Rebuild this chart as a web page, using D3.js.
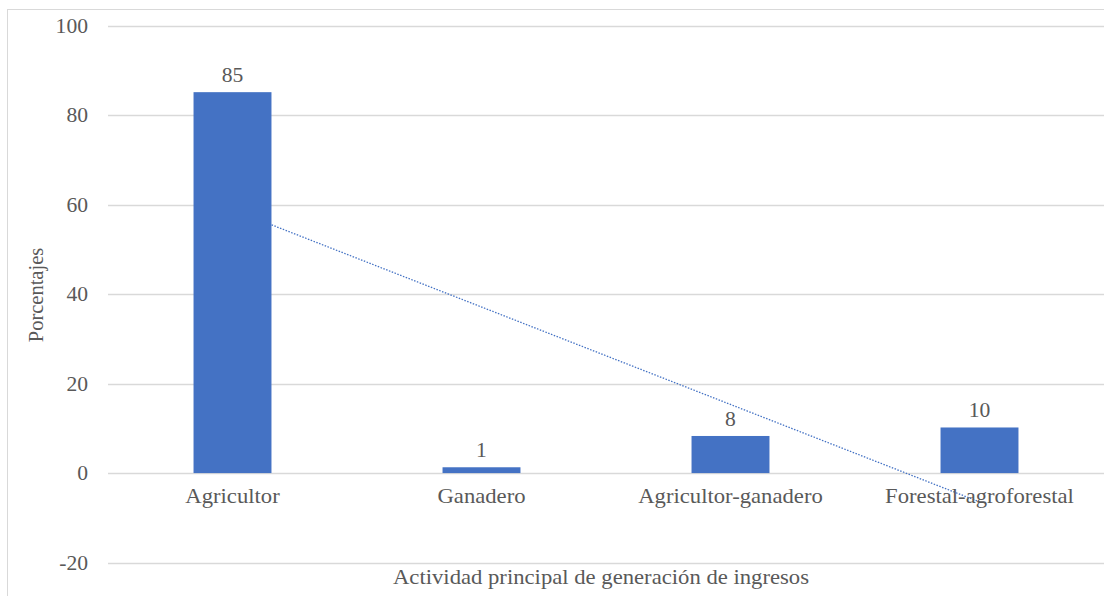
<!DOCTYPE html>
<html>
<head>
<meta charset="utf-8">
<script src="https://cdn.jsdelivr.net/npm/d3@7"></script>
<style>
    body { margin: 0; background: #fff; }
    svg text { font-family: 'Liberation Serif', 'Times New Roman', serif; fill: #595959; }
</style>
</head>
<body>
<svg id="chart"></svg>
<script>
let categories = ['Agricultor', 'Ganadero', 'Agricultor-ganadero', 'Forestal-agroforestal'];
let values = [85.2, 1.3, 8.3, 10.2];
let labels = ['85', '1', '8', '10'];
let yTicks = [-20, 0, 20, 40, 60, 80, 100];

let width = 1104;
let height = 596;
let margin = {
    top: 26,
    bot: 33,
    left: 108,
    right: 0
};
// the source picture is slightly stretched sideways
let stretch = 1.08;

let svg = d3.select('#chart')
    .attr('width', width)
    .attr('height', height)
    .attr('font-family', "'Liberation Serif', 'Times New Roman', serif");

// chart frame
svg.append('rect')
    .attr('x', 7.5)
    .attr('y', 9.5)
    .attr('width', width + 10)
    .attr('height', height + 10)
    .attr('fill', 'none')
    .attr('stroke', '#d9d9d9');

let xScale = d3.scaleBand()
    .domain(categories)
    .range([margin.left, width - margin.right]);
let yScale = d3.scaleLinear()
    .domain([-20, 100])
    .range([height - margin.bot - 0.5, margin.top]);

let barWidth = xScale.bandwidth() * 0.313;

function place(x, y) {
    return `translate(${x},${y}) scale(${stretch},1)`;
}

// gridlines
svg.append('g')
    .selectAll('line')
    .data(yTicks)
    .join('line')
    .attr('x1', margin.left)
    .attr('x2', width - margin.right)
    .attr('y1', d => Math.round(yScale(d)) + 0.5)
    .attr('y2', d => Math.round(yScale(d)) + 0.5)
    .attr('stroke', '#d9d9d9')
    .attr('stroke-width', 1.5);

// y tick labels
svg.append('g')
    .selectAll('text')
    .data(yTicks)
    .join('text')
    .attr('transform', d => place(88, yScale(d)))
    .attr('dy', '0.35em')
    .attr('text-anchor', 'end')
    .style('font-size', '20px')
    .text(d => d);

// linear trendline (least squares over category index), drawn under the bars
let n = values.length;
let idx = d3.range(1, n + 1);
let mx = d3.mean(idx);
let my = d3.mean(values);
let slope = d3.sum(idx, (k, i) => (k - mx) * (values[i] - my)) / d3.sum(idx, k => (k - mx) * (k - mx));
let intercept = my - slope * mx;
let trend = [1, n].map(k => ({ cat: categories[k - 1], v: intercept + slope * k }));
svg.append('path')
    .datum(trend)
    .attr('d', d3.line()
        .x(d => xScale(d.cat) + xScale.bandwidth() / 2)
        .y(d => yScale(d.v)))
    .attr('fill', 'none')
    .attr('stroke', '#4472c4')
    .attr('stroke-width', 1.3)
    .attr('stroke-dasharray', '1.5,1.5');

// bars
svg.append('g')
    .selectAll('rect')
    .data(values)
    .join('rect')
    .attr('x', (d, i) => xScale(categories[i]) + (xScale.bandwidth() - barWidth) / 2)
    .attr('y', d => yScale(d))
    .attr('width', barWidth)
    .attr('height', d => yScale(0) - yScale(d))
    .attr('fill', '#4472c4');

// value labels
svg.append('g')
    .selectAll('text')
    .data(values)
    .join('text')
    .attr('transform', (d, i) => place(xScale(categories[i]) + xScale.bandwidth() / 2, yScale(d) - 10))
    .attr('text-anchor', 'middle')
    .style('font-size', '20px')
    .text((d, i) => labels[i]);

// category labels
svg.append('g')
    .selectAll('text')
    .data(categories)
    .join('text')
    .attr('transform', d => place(xScale(d) + xScale.bandwidth() / 2, yScale(0) + 30))
    .attr('text-anchor', 'middle')
    .style('font-size', '21px')
    .text(d => d);

// axis titles
svg.append('text')
    .attr('transform', `translate(43,295) rotate(-90)`)
    .attr('text-anchor', 'middle')
    .style('font-size', '20.5px')
    .text('Porcentajes');

svg.append('text')
    .attr('transform', place(601, 584))
    .attr('text-anchor', 'middle')
    .style('font-size', '21px')
    .text('Actividad principal de generación de ingresos');
</script>
</body>
</html>
